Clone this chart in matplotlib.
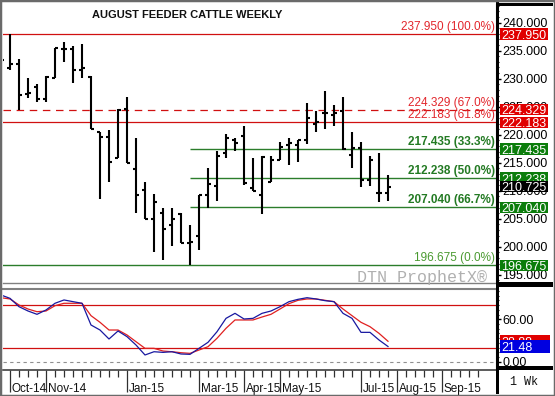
import numpy as np
import pandas as pd
import matplotlib
matplotlib.use('Agg')
import matplotlib.pyplot as plt
import matplotlib.dates as mdates
import matplotlib.transforms as mtrans
from matplotlib.patches import Rectangle
from matplotlib.ticker import FixedLocator, MultipleLocator, NullFormatter, FormatStrFormatter

plt.rcParams['font.family'] = ['Liberation Sans', 'DejaVu Sans']

W, H = 555, 396

# ---------------- data ----------------
week_dates = pd.date_range('2014-09-29', periods=44, freq='W-MON')
opens = [233.5, 231.9, 232.6, 227.2, 228.5, 226.3, 230.1, 235.25, 235.3, 231.55, 230.25, 220.4, 219.6, 215.9,
         224.6, 213.8, 210.1, 205.0, 206.0, 203.9, 205.8, 200.7, 201.9, 209.2, 210.8, 216.7, 219.1, 219.8,
         210.4, 209.2, 211.6, 215.5, 218.2, 218.2, 219.05, 222.0, 223.8, 223.6, 224.3, 216.4, 217.6, 212.0,
         209.6, 209.6]
highs = [234.5, 237.95, 233.5, 230.1, 229.0, 230.5, 235.4, 236.6, 235.9, 236.2, 230.4, 220.4, 220.8, 224.6,
         226.8, 219.5, 211.5, 209.4, 207.0, 207.0, 206.0, 203.9, 209.2, 214.0, 217.1, 220.1, 219.5, 221.6,
         215.8, 216.2, 216.2, 218.75, 219.5, 219.05, 225.6, 224.3, 227.8, 225.3, 226.7, 220.5, 218.75, 216.2,
         216.7, 212.8]
lows = [232.0, 231.5, 224.4, 226.5, 225.8, 225.9, 230.1, 233.0, 229.3, 230.2, 221.1, 208.6, 211.5, 215.9,
        214.9, 206.0, 205.0, 199.1, 197.6, 200.1, 200.6, 196.675, 199.5, 206.9, 208.2, 215.8, 217.1, 211.0,
        210.0, 205.8, 211.6, 215.5, 214.6, 215.2, 218.3, 220.4, 221.1, 221.55, 217.3, 214.0, 210.6, 210.8,
        208.0, 208.2]
closes = [233.3, 232.6, 227.1, 227.4, 226.3, 230.25, 235.4, 235.25, 231.55, 231.85, 221.1, 219.6, 215.1, 224.4,
          214.9, 209.2, 205.0, 208.0, 203.1, 205.0, 200.7, 200.9, 209.2, 211.2, 216.2, 219.4, 218.6, 211.3,
          210.0, 216.1, 215.4, 217.75, 218.5, 219.05, 222.9, 222.3, 223.8, 223.8, 217.4, 217.6, 212.0, 215.5,
          209.6, 210.725]

stoch_k = [94.3, 89.6, 77.8, 71.7, 67.0, 73.1, 82.6, 87.3, 84.9, 82.6, 51.9, 44.8, 32.1, 43.4, 35.4, 23.6,
           9.5, 14.1, 13.2, 14.1, 10.9, 10.4, 18.9, 27.4, 42.4, 61.3, 68.4, 60.4, 61.3, 68.4, 71.7, 77.8,
           84.9, 88.2, 90.5, 88.7, 86.3, 84.9, 68.4, 61.3, 41.5, 41.5, 30.7, 21.48]
stoch_d = [90.5, 88.7, 80.2, 74.5, 70.7, 71.7, 79.2, 82.6, 82.6, 82.6, 65.1, 55.7, 44.8, 44.8, 37.8, 28.3,
           18.9, 18.9, 15.1, 14.1, 12.7, 11.8, 16.5, 21.2, 33.1, 47.2, 59.0, 59.0, 59.0, 63.2, 67.0, 74.5,
           82.1, 86.8, 88.7, 88.7, 86.8, 84.9, 74.5, 65.1, 55.7, 49.5, 40.1, 28.88]

red_levels = [237.950, 224.329, 222.183]
red_pcts = ['100.0%', '67.0%', '61.8%']
green_levels = [217.435, 212.238, 207.040, 196.675]
green_pcts = ['33.3%', '50.0%', '66.7%', '0.0%']
last_price = 210.725

month_dates = ['2014-10-06', '2014-11-03', '2015-01-05', '2015-03-02', '2015-04-06',
               '2015-05-04', '2015-07-06', '2015-08-03', '2015-09-07']
month_labels = ['Oct-14', 'Nov-14', 'Jan-15', 'Mar-15', 'Apr-15', 'May-15', 'Jul-15', 'Aug-15', 'Sep-15']
price_ticks = [195, 200, 205, 210, 215, 220, 225, 230, 235, 240]
stoch_ticks = [0, 60]
stoch_lines = [80, 20]

# ---------------- layout ----------------
fig = plt.figure(figsize=(W / 100, H / 100), dpi=100)
fig.patch.set_facecolor('white')


def fr(x0, y0, x1, y1):
    return [x0 / W, 1 - y1 / H, (x1 - x0) / W, (y1 - y0) / H]


ax = fig.add_axes(fr(3, 5, 497, 283))
axi = fig.add_axes(fr(3, 289, 497, 370))

x = mdates.date2num(week_dates)
wk = 7.0
xmin = x[0] + 0.222 * wk
xmax = x[0] + 55.11 * wk

RED_LINE = '#d01010'
RED_TXT = '#e2262c'
GREEN_LINE = '#2b7d2b'
GREEN_TXT = '#237a23'

# ---------------- main price panel ----------------
ax.set_xlim(xmin, xmax)
ax.set_ylim(193.52, 243.16)
ppu = 5.6  # pixels per price unit

tl = 0.33 * wk
ax.vlines(x, lows, highs, color='black', lw=1.5, zorder=3)
ax.hlines(opens, x - tl, x, color='black', lw=1.5, zorder=3)
ax.hlines(closes, x, x + tl, color='black', lw=1.5, zorder=3)

low_idx = int(np.argmin(lows))
for lvl, pct in zip(red_levels, red_pcts):
    ls = (0, (6, 4.5)) if pct == '67.0%' else '-'
    ax.axhline(lvl, color=RED_LINE, lw=0.9, ls=ls, zorder=2)
    ax.annotate(f'{lvl:.3f} ({pct})', xy=(1, lvl), xycoords=('axes fraction', 'data'),
                xytext=(-1.5, 3), textcoords='offset points', ha='right', va='baseline',
                fontsize=8.5, color=RED_TXT, zorder=4)
for lvl, pct in zip(green_levels, green_pcts):
    if pct == '0.0%':
        ax.axhline(lvl, color=GREEN_LINE, lw=1.0, zorder=2)
        ax.annotate(f'{lvl:.3f} ({pct})', xy=(1, lvl), xycoords=('axes fraction', 'data'),
                    xytext=(-1.5, 3), textcoords='offset points', ha='right', va='baseline',
                    fontsize=8.5, color='#4a9a30', zorder=4)
    else:
        ax.hlines(lvl, x[low_idx], xmax, color=GREEN_LINE, lw=1.0, zorder=2)
        ax.annotate(f'{lvl:.3f} ({pct})', xy=(1, lvl), xycoords=('axes fraction', 'data'),
                    xytext=(-1.5, 3), textcoords='offset points', ha='right', va='baseline',
                    fontsize=8.5, color=GREEN_TXT, fontweight='bold', zorder=4)

ax.text(0.3725, 0.965, 'AUGUST FEEDER CATTLE WEEKLY', transform=ax.transAxes, ha='center',
        va='center', fontsize=8, fontweight='bold', color='#111111')
ax.text(0.98, 0.02, 'DTN ProphetX®', transform=ax.transAxes, ha='right', va='center',
        fontsize=12, family=['Liberation Mono', 'DejaVu Sans Mono'], color='#b0b0b0')

ax.yaxis.tick_right()
ax.yaxis.set_major_locator(FixedLocator(price_ticks))
ax.yaxis.set_major_formatter(FormatStrFormatter('%.3f'))
ax.yaxis.set_minor_locator(MultipleLocator(1))
ax.tick_params(axis='y', which='major', direction='out', length=3, width=1, labelsize=9, pad=1,
               colors='black')
ax.tick_params(axis='y', which='minor', direction='out', length=1.5, width=0.8)
ax.set_xticks([])
for s in ['left', 'top']:
    ax.spines[s].set_visible(False)
ax.spines['right'].set_color('black')
ax.spines['right'].set_linewidth(1.5)
ax.spines['bottom'].set_color('#808080')
ax.spines['bottom'].set_linewidth(1.0)

# price boxes on right axis
blend = mtrans.blended_transform_factory(ax.transAxes, ax.transData)
bx0 = (500 - 3) / 494
bw = 48 / 494
bh = 11.5 / ppu
red_box_pos = list(red_levels)
# push the upper of two touching red boxes up so both stay readable
for j in range(len(red_box_pos) - 1):
    gap = red_box_pos[j] - red_box_pos[j + 1]
    if gap < bh + 1.5 / ppu:
        red_box_pos[j] = red_box_pos[j + 1] + bh + 1.5 / ppu
box_specs = [(p, v, '#e00000') for p, v in zip(red_box_pos, red_levels)] + \
            [(v, v, '#0b7d0b') for v in green_levels] + [(last_price, last_price, '#000000')]
for i, (p, v, col) in enumerate(box_specs):
    z = 10 + i
    ax.add_patch(Rectangle((bx0, p - bh / 2), bw, bh, transform=blend, facecolor=col,
                           edgecolor='none', clip_on=False, zorder=z))
    ax.text(bx0 + 1.5 / 494, p, f'{v:.3f}', transform=blend, ha='left', va='center_baseline',
            fontsize=9, color='white', clip_on=False, zorder=z + 0.5)

# ---------------- stochastic panel ----------------
axi.set_xlim(xmin, xmax)
axi.set_ylim(-11.74, 102.8)
axi.plot(x, stoch_d, color='#e02020', lw=0.9, zorder=3)
axi.plot(x, stoch_k, color='#1818a0', lw=0.9, zorder=4)
for lv in stoch_lines:
    axi.axhline(lv, color=RED_LINE, lw=0.9, zorder=2)
axi.axhline(0, color='#909090', lw=0.8, ls=(0, (3, 3)), zorder=2)

axi.yaxis.tick_right()
axi.yaxis.set_major_locator(FixedLocator(stoch_ticks))
axi.yaxis.set_major_formatter(FormatStrFormatter('%.2f'))
axi.yaxis.set_minor_locator(MultipleLocator(20 / 3))
axi.tick_params(axis='y', which='major', direction='out', length=3, width=1, labelsize=9, pad=1)
axi.tick_params(axis='y', which='minor', direction='out', length=1.5, width=0.8)

axi.spines['left'].set_visible(False)
axi.spines['top'].set_color('#808080')
axi.spines['top'].set_linewidth(1.5)
axi.spines['right'].set_color('black')
axi.spines['right'].set_linewidth(1.5)
axi.spines['bottom'].set_color('#404040')
axi.spines['bottom'].set_linewidth(1.2)

mnum = mdates.date2num(pd.to_datetime(month_dates))
axi.xaxis.set_major_locator(FixedLocator(mnum))
axi.xaxis.set_major_formatter(NullFormatter())
all_weeks = mdates.date2num(pd.date_range('2014-09-29', '2015-10-05', freq='W-MON'))
axi.xaxis.set_minor_locator(FixedLocator(all_weeks))
axi.tick_params(axis='x', which='major', direction='out', length=16, width=0.9, colors='#303030')
axi.tick_params(axis='x', which='minor', direction='out', length=5, width=0.9, colors='#303030')
for d, lbl in zip(mnum, month_labels):
    axi.annotate(lbl, xy=(d, 0), xycoords=('data', 'axes fraction'), xytext=(1.2, -12.3),
                 textcoords='offset points', ha='left', va='center_baseline', fontsize=8.5,
                 color='#111111', annotation_clip=False)

blend_i = mtrans.blended_transform_factory(axi.transAxes, axi.transData)
bh_i = 13 / 0.707
for i, (v, col) in enumerate([(stoch_d[-1], '#e00000'), (stoch_k[-1], '#0000e0')]):
    axi.add_patch(Rectangle((bx0, v - bh_i / 2), 50 / 494, bh_i, transform=blend_i, facecolor=col,
                            edgecolor='none', clip_on=False, zorder=10 + i))
    axi.text(bx0 + 1.5 / 494, v, f'{v:.2f}', transform=blend_i, ha='left', va='center_baseline',
             fontsize=9, color='white', clip_on=False, zorder=10.5 + i)

# ---------------- frame pieces ----------------
def prect(x0, y0, x1, y1, col):
    fig.add_artist(Rectangle((x0 / W, 1 - y1 / H), (x1 - x0) / W, (y1 - y0) / H,
                             transform=fig.transFigure, facecolor=col, edgecolor='none', zorder=5))


prect(496, 2, 499, 394, 'black')
prect(496, 3, 553, 6, 'black')
prect(496, 282, 553, 287, 'black')
prect(496, 366, 553, 370, 'black')
fig.text(524 / W, 1 - 382 / H, '1 Wk', ha='center', va='center', fontsize=8.5,
         family=['Liberation Mono', 'DejaVu Sans Mono'], color='#111111')

fig.add_artist(Rectangle((0, 0), 1, 1, transform=fig.transFigure, facecolor='none',
                         edgecolor='#6a6a6a', lw=2.5, zorder=6))

fig.savefig('out.png', dpi=100, facecolor='white')
